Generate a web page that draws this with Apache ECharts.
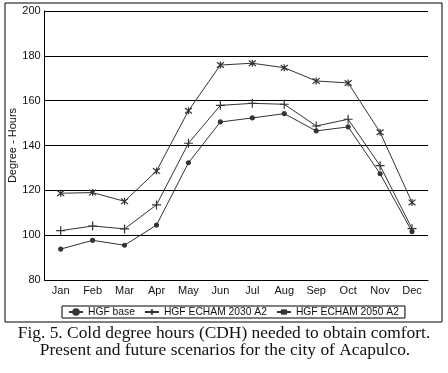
<!DOCTYPE html>
<html><head><meta charset="utf-8">
<script src="https://cdn.jsdelivr.net/npm/echarts@6/dist/echarts.min.js"></script>
<style>html,body{margin:0;padding:0;background:#fff}#c{width:448px;height:373px}</style>
</head><body><div id="c"></div>
<script>
const months = ['Jan','Feb','Mar','Apr','May','Jun','Jul','Aug','Sep','Oct','Nov','Dec'];
const hgfBase = [93.8, 97.7, 95.5, 104.5, 132.3, 150.5, 152.3, 154.2, 146.5, 148.3, 127.4, 101.6];
const hgf2030 = [102.0, 104.1, 102.8, 113.5, 141.0, 157.9, 158.8, 158.4, 148.7, 151.7, 131.0, 102.9];
const hgf2050 = [118.7, 119.0, 115.1, 128.6, 155.5, 175.9, 176.7, 174.7, 168.8, 167.9, 145.9, 114.6];
const seriesNames = ['HGF base', 'HGF ECHAM 2030 A2', 'HGF ECHAM 2050 A2'];
const yTicks = {min: 80, max: 200, interval: 20};
const captionLines = ['Fig. 5. Cold degree hours (CDH) needed to obtain comfort.', 'Present and future scenarios for the city of Acapulco.'];

const lineCol = '#333';
const plusSym = 'path://M0,5L10,5M5,0L5,10';
const starSym = 'path://M1,1L9,9M9,1L1,9M5,0L5,10';
function mk(name, data, symbol, size){
  return {name, type:'line', data, symbol, symbolSize:size, showSymbol:true,
    lineStyle:{color:lineCol, width:1},
    itemStyle:{color:lineCol, borderColor:lineCol, borderWidth:1.2},
    emphasis:{disabled:true}, animation:false};
}
const serifFont = '17.4px "Liberation Serif", "Times New Roman", serif';
const chart = echarts.init(document.getElementById('c'), null, {renderer:'canvas'});
chart.setOption({
  backgroundColor:'#fff',
  animation:false,
  textStyle:{fontFamily:'Liberation Sans, Arial, sans-serif'},
  grid:{left:44.7, right:20, top:11, bottom:93, outerBoundsMode:'none', containLabel:false},
  xAxis:{type:'category', data:months, boundaryGap:true,
    axisLine:{lineStyle:{color:'#000', width:1}}, axisTick:{show:false},
    axisLabel:{color:'#111', fontSize:11, margin:5}},
  yAxis:{type:'value', min:yTicks.min, max:yTicks.max, interval:yTicks.interval,
    name:'Degree - Hours', nameLocation:'middle', nameGap:26, nameRotate:90, nameMoveOverlap:false,
    nameTextStyle:{color:'#111', fontSize:11},
    axisLine:{show:true, lineStyle:{color:'#000', width:1}}, axisTick:{show:false},
    axisLabel:{color:'#111', fontSize:11, margin:4},
    splitLine:{lineStyle:{color:'#000', width:1.2}}},
  legend:{data:seriesNames, left:62, top:306, orient:'horizontal',
    itemWidth:14, itemHeight:7, itemGap:9, borderColor:'#000', borderWidth:1,
    padding:[1,6,1,6], textStyle:{color:'#111', fontSize:10.3}},
  graphic:[
    {type:'rect', shape:{x:5, y:3, width:437, height:319}, style:{fill:'none', stroke:'#000', lineWidth:1}, silent:true},
    {type:'text', x:224, y:333, style:{text:captionLines[0], font:serifFont, fill:'#111', align:'center', verticalAlign:'middle'}},
    {type:'text', x:225, y:350, style:{text:captionLines[1], font:serifFont, fill:'#111', align:'center', verticalAlign:'middle'}}
  ],
  series:[
    mk(seriesNames[0], hgfBase, 'circle', 4),
    mk(seriesNames[1], hgf2030, plusSym, 9),
    mk(seriesNames[2], hgf2050, starSym, 7)
  ]
});
</script></body></html>
